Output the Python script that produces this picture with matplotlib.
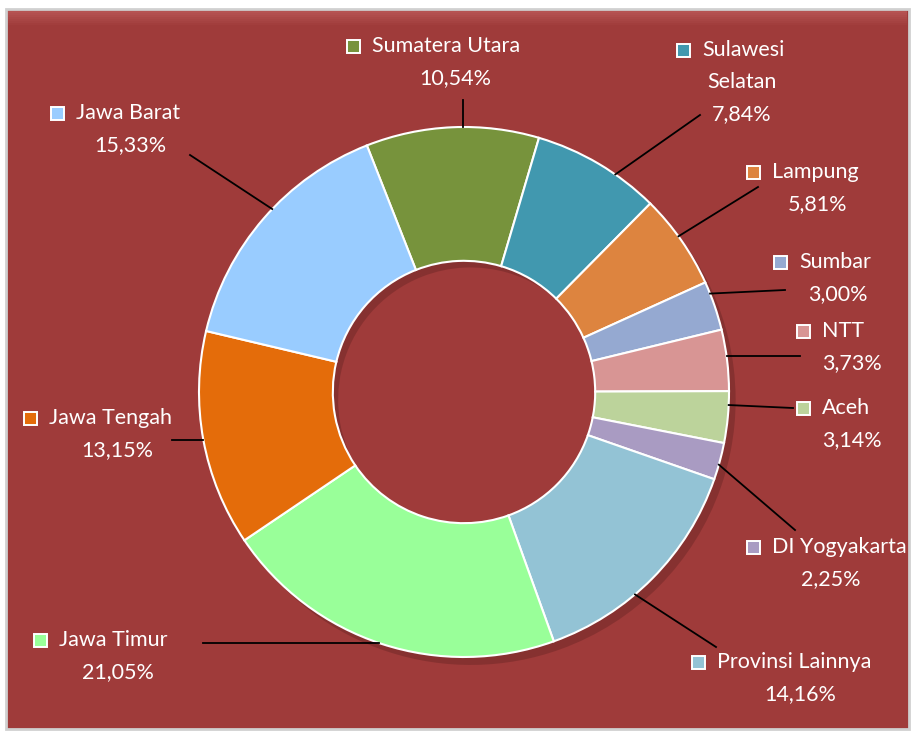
import matplotlib
matplotlib.use("Agg")
import matplotlib.pyplot as plt
from matplotlib.patches import Rectangle
import numpy as np

plt.rcParams['font.family'] = ['Lato', 'DejaVu Sans']

categories = ["Sumatera Utara", "Sulawesi\nSelatan", "Lampung", "Sumbar", "NTT", "Aceh",
              "DI Yogyakarta", "Provinsi Lainnya", "Jawa Timur", "Jawa Tengah", "Jawa Barat"]
values = [10.54, 7.84, 5.81, 3.00, 3.73, 3.14, 2.25, 14.16, 21.05, 13.15, 15.33]
pct_labels = ["10,54%", "7,84%", "5,81%", "3,00%", "3,73%", "3,14%", "2,25%",
              "14,16%", "21,05%", "13,15%", "15,33%"]
colors = ["#77933C", "#4198AF", "#DD843F", "#95A9D1", "#D89594", "#BCD39B",
          "#A99BC2", "#93C3D5", "#99FF99", "#E46C0A", "#99CCFF"]

W, H = 914, 736
fig = plt.figure(figsize=(W / 100, H / 100), dpi=100)
fig.patch.set_facecolor("white")

# background panel
bg = fig.add_axes([0, 0, 1, 1])
bg.set_xlim(0, W)
bg.set_ylim(H, 0)
bg.axis("off")
bg.add_patch(Rectangle((6, 9), 903, 720, facecolor="#9F3B3A", edgecolor="#D0D0D0", lw=2))
for i, a in enumerate(np.linspace(0.35, 0.0, 8)):
    bg.add_patch(Rectangle((8, 11 + i * 2), 899, 2, facecolor="#E08080", edgecolor="none", alpha=a))

CX, CY, R = 464, 392, 265
ax = fig.add_axes([(CX - R) / W, (H - CY - R) / H, 2 * R / W, 2 * R / H])
ax.axis("off")

# soft shadow
ax.pie(values, radius=1.0, startangle=111.5, counterclock=False,
       colors=["#5a1f1e"] * len(values), center=(0.025, -0.03),
       wedgeprops=dict(width=0.5, edgecolor="none", alpha=0.35), frame=False)

wedges, _ = ax.pie(values, radius=1.0, startangle=111.5, counterclock=False, colors=colors,
                   wedgeprops=dict(width=0.505, edgecolor="white", linewidth=1.5), frame=False)
ax.set_xlim(-1, 1)
ax.set_ylim(-1, 1)


def px(x, y):
    return (x - CX) / R, (CY - y) / R


# label layout: (marker x, first-line y, text-center x, leader start px, leader target px)
label_layout = [
    (353, 46, 455, (463, 100), (463, 127)),
    (683, 50, 742, (700, 115), (617, 172)),
    (753, 172, 818, (758, 187), (683, 233)),
    (780, 262, 838, (785, 290), (714, 292)),
    (803, 331, 852, (800, 356), (730, 356)),
    (803, 408, 852, (793, 408), (728, 405)),
    (753, 547, 831, (795, 530), (720, 465)),
    (698, 662, 800, (716, 647), (638, 598)),
    (40, 640, 118, (203, 643), (385, 643)),
    (30, 418, 117, (172, 440), (198, 440)),
    (57, 113, 130, (190, 155), (268, 205)),
]

LS = 32  # line spacing px
FS = 15.5
for w, cat, pct, (mx, my, tcx, lstart, ltarget) in zip(wedges, categories, pct_labels, label_layout):
    lines = cat.split("\n")
    mxd, myd = px(mx - 6.5, my - 6.5)
    ax.add_patch(Rectangle((mxd, myd - 13 / R), 13 / R, 13 / R, facecolor=w.get_facecolor(),
                           edgecolor="white", lw=1.4, clip_on=False))
    ax.text(*px(mx + 19, my), lines[0], color="white", fontsize=FS, ha="left", va="center")
    for k, ln in enumerate(lines[1:], start=1):
        ax.text(*px(tcx, my + k * LS), ln, color="white", fontsize=FS, ha="center", va="center")
    ax.text(*px(tcx, my + len(lines) * LS), pct, color="white", fontsize=FS, ha="center", va="center")
    # leader line: from label to the outer edge of its wedge
    sx, sy = px(*lstart)
    tx, ty = px(*ltarget)
    if abs(ty - sy) < 1e-6:
        ex = np.sign(tx) * np.sqrt(max(0.0, 1 - ty ** 2))
        ey = ty
    else:
        n = np.hypot(tx, ty)
        ex, ey = tx / n, ty / n
    ax.plot([sx, ex], [sy, ey], color="black", lw=1.3, clip_on=False)

fig.savefig("out.png", dpi=100, facecolor="white")
